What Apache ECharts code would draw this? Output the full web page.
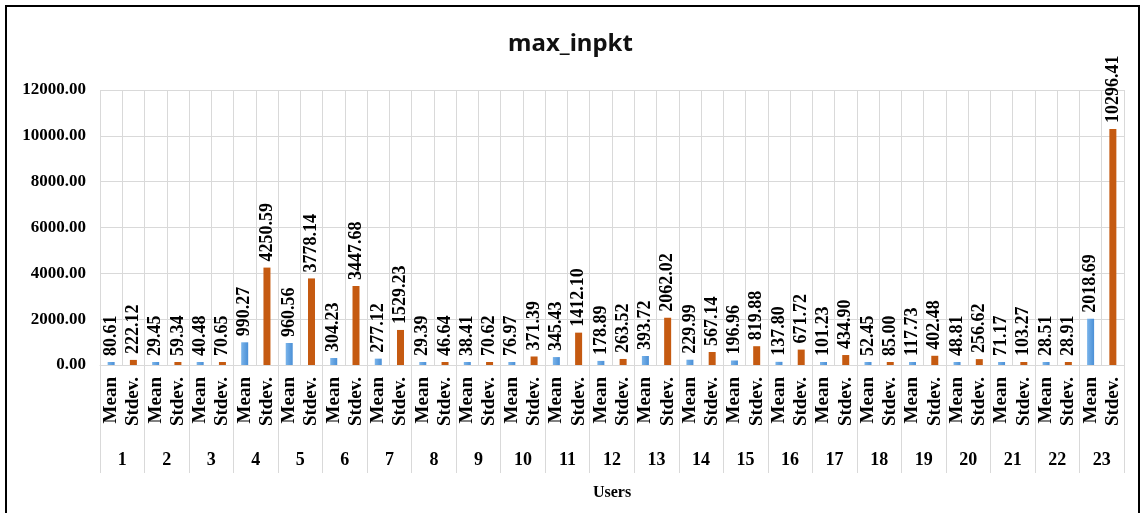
<!DOCTYPE html>
<html>
<head>
<meta charset="utf-8">
<script src="https://cdn.jsdelivr.net/npm/echarts@6/dist/echarts.min.js"></script>
<style>
    html, body { margin: 0; padding: 0; background: #fff; }
    #chart { width: 1141px; height: 513px; }
</style>
</head>
<body>
<div id="chart"></div>
<script>
// values
const users = ['1','2','3','4','5','6','7','8','9','10','11','12','13','14','15','16','17','18','19','20','21','22','23']
const meanVals = [80.61, 29.45, 40.48, 990.27, 960.56, 304.23, 277.12, 29.39, 38.41, 76.97, 345.43, 178.89, 393.72, 229.99, 196.96, 137.80, 101.23, 52.45, 117.73, 48.81, 71.17, 28.51, 2018.69]
const stdevVals = [222.12, 59.34, 70.65, 4250.59, 3778.14, 3447.68, 1529.23, 46.64, 70.62, 371.39, 1412.10, 263.52, 2062.02, 567.14, 819.88, 671.72, 434.90, 85.00, 402.48, 256.62, 103.27, 28.91, 10296.41]
const statNames = ['Mean', 'Stdev.']
const yTicks = { min: 0, max: 12000, interval: 2000 }

// inner axis: Mean / Stdev. per user, one bar per slot
let inner = []
let meanData = []
let stdevData = []
users.forEach((u, i) => {
    inner.push(statNames[0], statNames[1])
    meanData.push(meanVals[i], null)
    stdevData.push(null, stdevVals[i])
})

const serif = "'Liberation Serif', 'DejaVu Serif', serif"
const gridColor = '#d9d9d9'

let chart = echarts.init(document.getElementById('chart'))

let labelOpt = {
    show: true,
    position: 'top',
    rotate: 90,
    align: 'left',
    verticalAlign: 'middle',
    distance: 6,
    color: '#000',
    fontFamily: serif,
    fontWeight: 'bold',
    fontSize: 18,
    formatter: p => p.value == null ? '' : p.value.toFixed(2)
}

chart.setOption({
    animation: false,
    title: {
        text: 'max_inpkt',
        left: 'center',
        top: 27,
        textStyle: { fontFamily: "'Noto Sans', sans-serif", fontWeight: 'bold', fontSize: 24, color: '#111' }
    },
    graphic: [{
        type: 'rect',
        shape: { x: 6, y: 6, width: 1133, height: 520 },
        style: { fill: 'none', stroke: '#000', lineWidth: 2 },
        silent: true
    }],
    grid: { left: 100, right: 17, top: 90, bottom: 148 },
    xAxis: [
        {
            type: 'category',
            data: inner,
            axisLine: { lineStyle: { color: gridColor } },
            axisTick: { length: 72, interval: 0, lineStyle: { color: gridColor } },
            splitLine: { show: true, interval: 0, lineStyle: { color: gridColor } },
            axisLabel: {
                interval: 0,
                rotate: 90,
                margin: 12,
                color: '#000',
                fontFamily: serif,
                fontWeight: 'bold',
                fontSize: 19
            }
        },
        {
            type: 'category',
            data: users,
            position: 'bottom',
            offset: 108,
            axisLine: { show: true, lineStyle: { color: 'rgba(0,0,0,0)' } },
            axisTick: { show: true, inside: true, length: 108, interval: 0, lineStyle: { color: gridColor } },
            axisLabel: {
                inside: true,
                interval: 0,
                margin: 4,
                color: '#000',
                fontFamily: serif,
                fontWeight: 'bold',
                fontSize: 18
            },
            name: 'Users',
            nameLocation: 'middle',
            nameGap: 12,
            nameTextStyle: { color: '#000', fontFamily: serif, fontWeight: 'bold', fontSize: 16 }
        }
    ],
    yAxis: {
        type: 'value',
        min: yTicks.min,
        max: yTicks.max,
        interval: yTicks.interval,
        axisLine: { show: false },
        axisTick: { show: false },
        splitLine: { lineStyle: { color: gridColor } },
        axisLabel: {
            margin: 14,
            color: '#000',
            fontFamily: serif,
            fontWeight: 'bold',
            fontSize: 17,
            formatter: v => v.toFixed(2)
        }
    },
    series: [
        {
            name: 'Mean',
            type: 'bar',
            data: meanData,
            barWidth: 7,
            barGap: '-100%',
            barMinHeight: 3,
            itemStyle: {
                color: new echarts.graphic.LinearGradient(0, 0, 1, 0, [
                    { offset: 0, color: '#7ab4ea' },
                    { offset: 1, color: '#4a8fd6' }
                ])
            },
            label: labelOpt
        },
        {
            name: 'Stdev.',
            type: 'bar',
            data: stdevData,
            barWidth: 7,
            barGap: '-100%',
            barMinHeight: 3,
            itemStyle: { color: '#c55a11' },
            label: labelOpt
        }
    ]
})
</script>
</body>
</html>
